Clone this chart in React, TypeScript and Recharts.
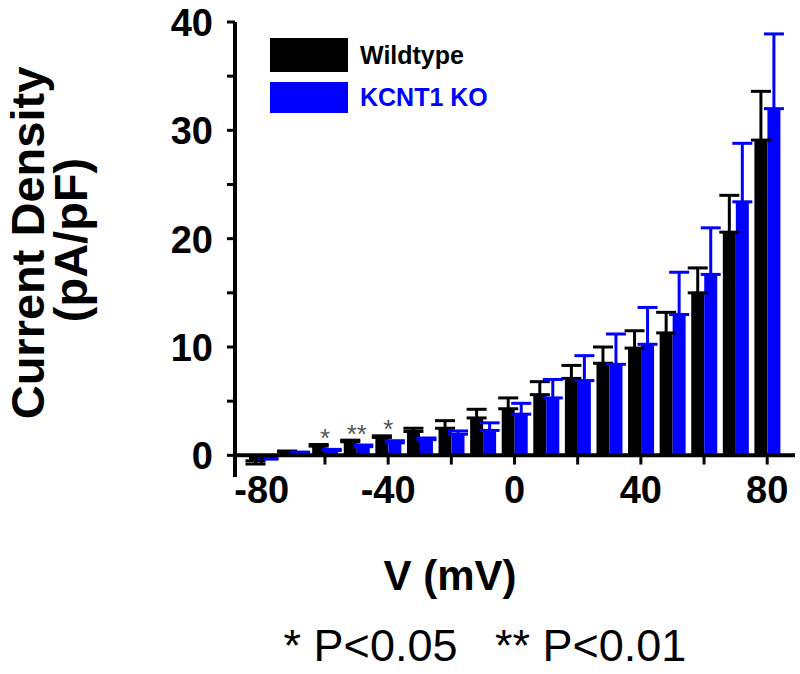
import React from "react"
import {
  BarChart,
  Bar,
  XAxis,
  YAxis,
  ErrorBar,
  ReferenceLine,
  Legend,
  LabelList,
  Label,
} from "recharts"

const voltages = [-80, -70, -60, -50, -40, -30, -20, -10, 0, 10, 20, 30, 40, 50, 60, 70, 80]
const wildtype = [-0.5, 0.3, 0.85, 1.25, 1.65, 2.2, 2.5, 3.45, 4.3, 5.6, 7.1, 8.5, 9.9, 11.3, 15.0, 20.6, 29.1]
const wildtypeSem = [0.3, 0.1, 0.15, 0.15, 0.15, 0.3, 0.7, 0.8, 1.0, 1.2, 1.2, 1.5, 1.6, 1.9, 2.3, 3.4, 4.5]
const knockout = [-0.25, 0.25, 0.45, 0.8, 1.15, 1.45, 1.95, 2.3, 3.8, 5.3, 6.9, 8.4, 10.25, 13.0, 16.7, 23.4, 32.0]
const knockoutSem = [0.1, 0.05, 0.1, 0.15, 0.2, 0.15, 0.3, 0.7, 1.0, 1.7, 2.3, 2.8, 3.4, 3.9, 4.3, 5.4, 6.9]
const significance = ["", "", "*", "**", "*", "", "", "", "", "", "", "", "", "", "", "", ""]
const yTicks = [0, 5, 10, 15, 20, 25, 30, 35, 40]
const xTickMarks = [-80, -60, -40, -20, 0, 20, 40, 60, 80]

const FONT = "Arial, 'Liberation Sans', Helvetica, sans-serif"
const BLUE = "#0000ff"

// one-sided error bars: up for positive means, down for negative ones
const data = voltages.map((v, i) => ({
  v,
  wt: wildtype[i],
  wtErr: wildtype[i] < 0 ? [wildtypeSem[i], 0] : [0, wildtypeSem[i]],
  ko: knockout[i],
  koErr: knockout[i] < 0 ? [knockoutSem[i], 0] : [0, knockoutSem[i]],
  sig: significance[i],
}))

function XTick(props: any) {
  const { x, y, payload } = props
  if (payload.value % 40 !== 0) return null
  return (
    <text x={x} y={y + 26} textAnchor="middle" fontSize={38} fontWeight="bold" fontFamily={FONT} fill="#000">
      {payload.value}
    </text>
  )
}

function YTick(props: any) {
  const { x, y, payload } = props
  if (payload.value % 10 !== 0) return null
  return (
    <text x={x} y={y + 14} textAnchor="end" fontSize={38} fontWeight="bold" fontFamily={FONT} fill="#000">
      {payload.value}
    </text>
  )
}

function StarLabel(props: any) {
  const { x, y, width, value } = props
  if (!value) return null
  return (
    <text x={x + width} y={y + 1} textAnchor="middle" fontSize={26} fontFamily={FONT} fill="#555">
      {value}
    </text>
  )
}

function YTitle() {
  return (
    <g fontFamily={FONT} fontWeight="bold" fontSize={47} fill="#000">
      <text transform="translate(44,243) rotate(-90)" textAnchor="middle">Current Density</text>
      <text transform="translate(87,240) rotate(-90)" textAnchor="middle">(pA/pF)</text>
    </g>
  )
}

function XTitle() {
  return (
    <g fontFamily={FONT} fill="#000">
      <text x={450} y={590} textAnchor="middle" fontSize={42} fontWeight="bold">V (mV)</text>
      <text x={485} y={661} textAnchor="middle" fontSize={45} style={{ whiteSpace: "pre" }}>
        {"* P<0.05   ** P<0.01"}
      </text>
    </g>
  )
}

function LegendBox() {
  const row = (color: string, label: string, top: number, h: number) => (
    <div style={{ position: "absolute", left: 0, top, height: h, display: "flex", alignItems: "center" }}>
      <div style={{ width: 78, height: h, background: color }} />
      <span
        style={{
          marginLeft: 12,
          fontFamily: FONT,
          fontWeight: "bold",
          fontSize: 25,
          color,
          whiteSpace: "nowrap",
        }}
      >
        {label}
      </span>
    </div>
  )
  return (
    <div style={{ position: "relative", width: 250, height: 80 }}>
      {row("#000", "Wildtype", 0, 34)}
      {row(BLUE, "KCNT1 KO", 44, 31)}
    </div>
  )
}

export default function App() {
  return (
    <div style={{ position: "absolute", left: 0, top: 0, width: 800, height: 674, background: "#fff" }}>
      <BarChart
        width={800}
        height={674}
        data={data}
        margin={{ top: 22, right: 5, bottom: 147, left: 165 }}
        barGap={0}
        barSize={13}
      >
        <XAxis
          dataKey="v"
          height={50}
          padding={{ left: 11, right: 12 }}
          axisLine={false}
          tickLine={false}
          tickSize={0}
          tickMargin={0}
          interval={0}
          tick={<XTick />}
        >
          <Label content={XTitle} />
        </XAxis>
        <YAxis
          width={70}
          domain={[-2, 40]}
          ticks={yTicks}
          interval={0}
          axisLine={{ stroke: "#000", strokeWidth: 4 }}
          tickLine={{ stroke: "#000", strokeWidth: 3 }}
          tickSize={8}
          tickMargin={14}
          tick={<YTick />}
        >
          <Label content={YTitle} />
        </YAxis>
        <Legend
          layout="vertical"
          align="center"
          verticalAlign="middle"
          wrapperStyle={{ position: "absolute", left: 270, top: 38, width: 250, height: 80 }}
          content={<LegendBox />}
        />
        <Bar dataKey="wt" name="Wildtype" fill="#000" isAnimationActive={false}>
          <ErrorBar dataKey="wtErr" width={10} strokeWidth={3} stroke="#000" direction="y" />
          <LabelList dataKey="sig" content={StarLabel} />
        </Bar>
        <Bar dataKey="ko" name="KCNT1 KO" fill={BLUE} isAnimationActive={false}>
          <ErrorBar dataKey="koErr" width={10} strokeWidth={3} stroke={BLUE} direction="y" />
        </Bar>
        <ReferenceLine y={0} stroke="#000" strokeWidth={4} />
        {xTickMarks.map((t) => (
          <ReferenceLine
            key={t}
            segment={[
              { x: t, y: 0 },
              { x: t, y: -0.85 },
            ]}
            stroke="#000"
            strokeWidth={3}
          />
        ))}
      </BarChart>
    </div>
  )
}
